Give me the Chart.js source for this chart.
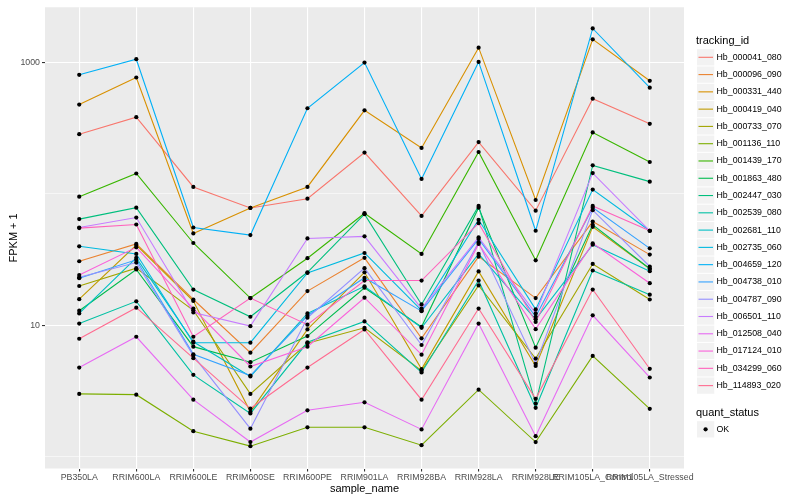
<!DOCTYPE html>
<html>
<head>
<meta charset="utf-8">
<script src="https://cdn.jsdelivr.net/npm/chart.js@4"></script>
<style>
  body { margin: 0; background: #fff; }
  #wrap { width: 800px; height: 500px; }
</style>
</head>
<body>
<div id="wrap"><canvas id="fpkmChart" width="800" height="500"></canvas></div>
<script>
const categories = ["PB350LA", "RRIM600LA", "RRIM600LE", "RRIM600SE", "RRIM600PE", "RRIM901LA",
  "RRIM928BA", "RRIM928LA", "RRIM928LE", "RRIM105LA_Control", "RRIM105LA_Stressed"];

const trackingIds = ["Hb_000041_080", "Hb_000096_090", "Hb_000331_440", "Hb_000419_040", "Hb_000733_070",
  "Hb_001136_110", "Hb_001439_170", "Hb_001863_480", "Hb_002447_030", "Hb_002539_080",
  "Hb_002681_110", "Hb_002735_060", "Hb_004659_120", "Hb_004738_010", "Hb_004787_090",
  "Hb_006501_110", "Hb_012508_040", "Hb_017124_010", "Hb_034299_060", "Hb_114893_020"];

const hueColors = ["#F8766D", "#EA8331", "#D89000", "#C09B00", "#A3A500", "#7CAE00", "#39B600", "#00BB4E",
  "#00BF7D", "#00C1A3", "#00BFC4", "#00BAE0", "#00B0F6", "#35A2FF", "#9590FF", "#C77CFF",
  "#E76BF3", "#FA62DB", "#FF62BC", "#FF6C91"];

// FPKM + 1, one value per sample
const hb_000041_080 = [285, 384, 113, 78.2, 92.0, 206.5, 68.0, 248, 74.6, 531, 342];
const hb_000096_090 = [30.7, 41.6, 15.7, 6.18, 18.2, 32.6, 7.95, 33.3, 16.1, 61.6, 34.5];
const hb_000331_440 = [479, 770, 50.0, 78.2, 113, 433, 224, 1299, 89.9, 1503, 727];
const hb_000419_040 = [15.8, 40.8, 15.3, 2.19, 9.29, 25.3, 4.63, 25.7, 4.90, 56.2, 26.9];
const hb_000733_070 = [19.9, 27.2, 13.0, 3.00, 7.28, 9.56, 4.50, 20.1, 5.57, 29.3, 15.7];
const hb_001136_110 = [3.00, 2.96, 1.56, 1.20, 1.67, 1.67, 1.22, 3.23, 1.29, 5.84, 2.31];
const hb_001439_170 = [95.2, 143, 42.3, 16.1, 32.4, 71.3, 34.9, 208.6, 31.2, 294, 175];
const hb_001863_480 = [12.9, 26.6, 6.87, 5.23, 8.27, 19.3, 9.72, 78.6, 6.75, 58.2, 26.9];
const hb_002447_030 = [64.3, 78.6, 18.7, 11.6, 25.3, 70.1, 14.4, 81.0, 2.53, 165, 124];
const hb_002539_080 = [10.3, 15.2, 4.19, 2.13, 7.41, 10.7, 4.37, 21.9, 2.35, 26.1, 17.1];
const hb_002681_110 = [12.3, 32.6, 7.49, 4.07, 12.3, 19.8, 9.56, 34.9, 11.1, 41.1, 25.8];
const hb_002735_060 = [39.9, 34.9, 7.36, 7.36, 25.0, 35.5, 13.0, 63.5, 13.2, 108, 52.4];
const hb_004659_120 = [807, 1061, 55.5, 48.6, 449, 1000, 130, 1012, 52.4, 1820, 644];
const hb_004738_010 = [22.8, 31.5, 6.01, 4.14, 11.8, 23.0, 12.8, 45.4, 11.6, 78.6, 38.5];
const hb_004787_090 = [23.2, 30.0, 5.87, 1.63, 11.4, 27.2, 7.07, 42.7, 5.08, 75.2, 28.0];
const hb_006501_110 = [55.5, 66.1, 12.5, 9.84, 45.8, 47.5, 13.4, 46.6, 12.3, 144, 52.4];
const hb_012508_040 = [4.76, 8.17, 2.71, 1.29, 2.25, 2.59, 1.61, 10.3, 1.43, 11.9, 4.00];
const hb_017124_010 = [24.1, 39.2, 13.4, 4.85, 6.87, 16.2, 5.97, 41.6, 9.34, 42.0, 20.9];
const hb_034299_060 = [54.9, 58.5, 8.17, 16.1, 10.1, 21.9, 21.9, 59.9, 10.6, 81.0, 52.4];
const hb_114893_020 = [7.89, 13.6, 5.61, 2.32, 4.76, 9.29, 2.71, 13.4, 2.75, 18.7, 4.66];

const seriesValues = [hb_000041_080, hb_000096_090, hb_000331_440, hb_000419_040, hb_000733_070,
  hb_001136_110, hb_001439_170, hb_001863_480, hb_002447_030, hb_002539_080,
  hb_002681_110, hb_002735_060, hb_004659_120, hb_004738_010, hb_004787_090,
  hb_006501_110, hb_012508_040, hb_017124_010, hb_034299_060, hb_114893_020];

const yLabelTicks = [10, 1000];
const yGridTicks = [1, 10, 100, 1000];

const FONT = "'Liberation Sans', Arial, sans-serif";

const toPoints = vals => vals.map((v, i) => ({x: i, y: v}));

const datasets = seriesValues.map((vals, i) => ({
  label: trackingIds[i],
  data: toPoints(vals),
  borderColor: hueColors[i],
  borderWidth: 1.1,
  pointRadius: 0,
  fill: false,
  tension: 0,
  order: seriesValues.length - i + 1
}));

// all points on top of all lines, like geom_point after geom_line
datasets.push({
  label: "OK",
  data: seriesValues.flatMap(vals => toPoints(vals)),
  showLine: false,
  pointRadius: 2.1,
  pointBackgroundColor: "#000",
  pointBorderWidth: 0,
  order: 0
});

const ggBackground = {
  id: "ggBackground",
  beforeDraw(chart) {
    const {ctx, chartArea: a} = chart;
    ctx.save();
    ctx.fillStyle = "#fff";
    ctx.fillRect(0, 0, chart.width, chart.height);
    ctx.fillStyle = "#EBEBEB";
    ctx.fillRect(a.left, a.top, a.right - a.left, a.bottom - a.top);
    ctx.restore();
  }
};

const ggDecor = {
  id: "ggDecor",
  afterDraw(chart) {
    const {ctx, chartArea: a} = chart;
    ctx.save();
    ctx.fillStyle = "#000";
    ctx.textBaseline = "middle";

    // axis titles
    ctx.font = "11px " + FONT;
    ctx.textAlign = "center";
    ctx.fillText("sample_name", (a.left + a.right) / 2, 489);
    ctx.save();
    ctx.translate(13.5, (a.top + a.bottom) / 2);
    ctx.rotate(-Math.PI / 2);
    ctx.fillText("FPKM + 1", 0, 0);
    ctx.restore();

    // legend: tracking_id
    ctx.textAlign = "left";
    ctx.fillText("tracking_id", 696, 41);
    const key = 17.28;
    trackingIds.forEach((id, k) => {
      const cy = 57.3 + key * k;
      ctx.fillStyle = "#F2F2F2";
      ctx.fillRect(697, cy - key / 2 + 0.5, key, key - 1);
      ctx.strokeStyle = hueColors[k];
      ctx.lineWidth = 1.1;
      ctx.beginPath();
      ctx.moveTo(698.5, cy);
      ctx.lineTo(713, cy);
      ctx.stroke();
      ctx.fillStyle = "#000";
      ctx.font = "8.8px " + FONT;
      ctx.fillText(id, 716.5, cy);
    });

    // legend: quant_status
    ctx.font = "11px " + FONT;
    ctx.fillText("quant_status", 696, 412.5);
    const oy = 429.3;
    ctx.fillStyle = "#F2F2F2";
    ctx.fillRect(697, oy - key / 2 + 0.5, key, key - 1);
    ctx.fillStyle = "#000";
    ctx.beginPath();
    ctx.arc(705.6, oy, 2.1, 0, Math.PI * 2);
    ctx.fill();
    ctx.font = "8.8px " + FONT;
    ctx.fillText("OK", 716.5, oy);
    ctx.restore();
  }
};

new Chart(document.getElementById("fpkmChart").getContext("2d"), {
  type: "line",
  data: { datasets: datasets },
  options: {
    responsive: false,
    animation: false,
    events: [],
    layout: { padding: { left: 0, top: 5, right: 116, bottom: 0 } },
    plugins: { legend: { display: false }, tooltip: { enabled: false } },
    scales: {
      x: {
        type: "linear",
        min: -0.6,
        max: categories.length - 1 + 0.6,
        afterBuildTicks: axis => { axis.ticks = categories.map((c, i) => ({value: i})); },
        afterFit: axis => { axis.height = 31.5; },
        border: { display: false },
        grid: { color: "#fff", lineWidth: 1.1, tickColor: "#333", tickLength: 3 },
        ticks: {
          autoSkip: false, maxRotation: 0, minRotation: 0, padding: 1,
          color: "#4D4D4D", font: { family: FONT, size: 8.8 },
          callback: v => categories[v]
        }
      },
      y: {
        type: "logarithmic",
        min: 0.811,
        max: 2638,
        afterBuildTicks: axis => { axis.ticks = yGridTicks.map(v => ({value: v})); },
        afterFit: axis => { axis.width = 45; },
        border: { display: false },
        grid: {
          color: "#fff",
          lineWidth: c => (c.tick && yLabelTicks.includes(c.tick.value)) ? 1.1 : 0.55,
          tickColor: c => (c.tick && yLabelTicks.includes(c.tick.value)) ? "#333" : "rgba(0,0,0,0)",
          tickLength: 3
        },
        ticks: {
          padding: 2, color: "#4D4D4D", font: { family: FONT, size: 8.8 },
          callback: v => yLabelTicks.includes(v) ? String(v) : ""
        }
      }
    }
  },
  plugins: [ggBackground, ggDecor]
});
</script>
</body>
</html>
